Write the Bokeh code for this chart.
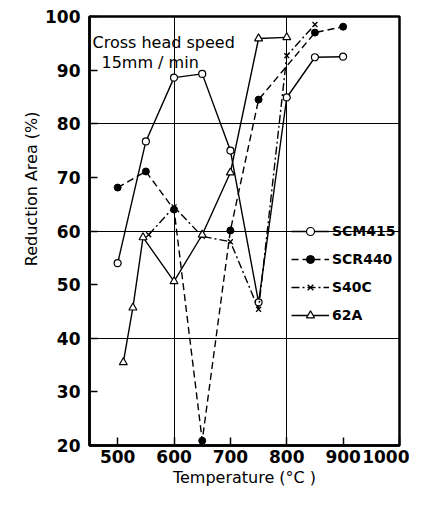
from bokeh.plotting import figure
from bokeh.models import FixedTicker, Legend, LegendItem, Label, Title
from bokeh.embed import file_html
from bokeh.resources import INLINE

# ---- data ----
scm415_x = [500, 550, 600, 650, 700, 750, 800, 850, 900]
scm415_y = [54, 76.7, 88.6, 89.3, 75, 46.7, 84.9, 92.4, 92.5]

scr440_x = [500, 550, 600, 650, 700, 750, 850, 900]
scr440_y = [68.1, 71.1, 64, 20.9, 60.1, 84.5, 97, 98.1]

s40c_x = [555, 600, 650, 700, 750, 800, 850]
s40c_y = [59.3, 64.5, 59, 58, 45.4, 92.7, 98.5]

a62_x = [510, 527, 545, 600, 650, 700, 750, 800]
a62_y = [35.5, 45.7, 58.8, 50.6, 59.3, 70.9, 95.9, 96.1]

x_ticks = [500, 600, 700, 800, 900, 1000]
y_ticks = [20, 30, 40, 50, 60, 70, 80, 90, 100]
x_grid = [600, 800]
y_grid = [40, 60, 80]

FONT = "DejaVu Sans"

p = figure(width=409, height=489, x_range=(450, 1000), y_range=(20, 100),
           output_backend="svg", toolbar_location=None,
           min_border_left=89, min_border_right=10, min_border_top=16,
           min_border_bottom=44)

p.outline_line_color = "black"
p.outline_line_width = 2.5
p.background_fill_color = "white"
p.border_fill_color = "white"

p.xaxis.ticker = FixedTicker(ticks=x_ticks)
p.yaxis.ticker = FixedTicker(ticks=y_ticks)
p.xgrid.ticker = FixedTicker(ticks=x_grid)
p.ygrid.ticker = FixedTicker(ticks=y_grid)
for g in (p.xgrid, p.ygrid):
    g.grid_line_color = "black"
    g.grid_line_width = 1

for ax in (p.xaxis, p.yaxis):
    ax.axis_line_width = 2.5
    ax.axis_line_color = "black"
    ax.major_tick_in = 8
    ax.major_tick_out = 0
    ax.major_tick_line_width = 1.5
    ax.major_tick_line_color = "black"
    ax.minor_tick_line_color = None
    ax.major_label_text_font = FONT
    ax.major_label_text_font_style = "bold"
    ax.major_label_text_font_size = "17px"
    ax.major_label_text_color = "black"

p.xaxis.major_label_standoff = 4
p.yaxis.major_label_standoff = 9
p.xaxis.axis_label = "Temperature (°C )"
p.xaxis.axis_label_text_font = FONT
p.xaxis.axis_label_text_font_style = "normal"
p.xaxis.axis_label_text_font_size = "16px"
p.xaxis.axis_label_text_color = "black"
p.xaxis.axis_label_standoff = 2

ytitle = Title(text="Reduction Area (%)", align="right", offset=95,
               text_font=FONT, text_font_size="16px",
               text_font_style="normal", text_color="black", standoff=4)
p.add_layout(ytitle, "left")

lw = 1.4
r1l = p.line(scm415_x, scm415_y, line_color="black", line_width=lw)
r1m = p.scatter(scm415_x, scm415_y, marker="circle", size=7,
                line_color="black", fill_color="white", line_width=1.2)
r2l = p.line(scr440_x, scr440_y, line_color="black", line_width=lw, line_dash="7 4")
r2m = p.scatter(scr440_x, scr440_y, marker="circle", size=7,
                line_color="black", fill_color="black")
r3l = p.line(s40c_x, s40c_y, line_color="black", line_width=lw, line_dash="8 3 2 3")
r3m = p.scatter(s40c_x, s40c_y, marker="x", size=7, line_color="black", line_width=1.3)
r4l = p.line(a62_x, a62_y, line_color="black", line_width=lw)
r4m = p.scatter(a62_x, a62_y, marker="triangle", size=8,
                line_color="black", fill_color="white", line_width=1.2)

legend = Legend(items=[
    LegendItem(label="SCM415", renderers=[r1l, r1m]),
    LegendItem(label="SCR440", renderers=[r2l, r2m]),
    LegendItem(label="S40C", renderers=[r3l, r3m]),
    LegendItem(label="62A", renderers=[r4l, r4m]),
], location=(202, 120))
legend.border_line_alpha = 0
legend.background_fill_alpha = 0
legend.glyph_width = 38
legend.glyph_height = 20
legend.spacing = 8
legend.padding = 0
legend.margin = 0
legend.label_standoff = 3
legend.label_text_font = FONT
legend.label_text_font_style = "bold"
legend.label_text_font_size = "14px"
legend.label_text_color = "black"
p.add_layout(legend, "center")

p.add_layout(Label(x=3, y=403, x_units="screen", y_units="screen",
                   text="Cross head speed", text_font=FONT,
                   text_font_size="16px", text_color="black",
                   text_baseline="alphabetic"))
p.add_layout(Label(x=12, y=383, x_units="screen", y_units="screen",
                   text="15mm / min", text_font=FONT,
                   text_font_size="16px", text_color="black",
                   text_baseline="alphabetic"))

open("out.html", "w").write(file_html(p, INLINE))
